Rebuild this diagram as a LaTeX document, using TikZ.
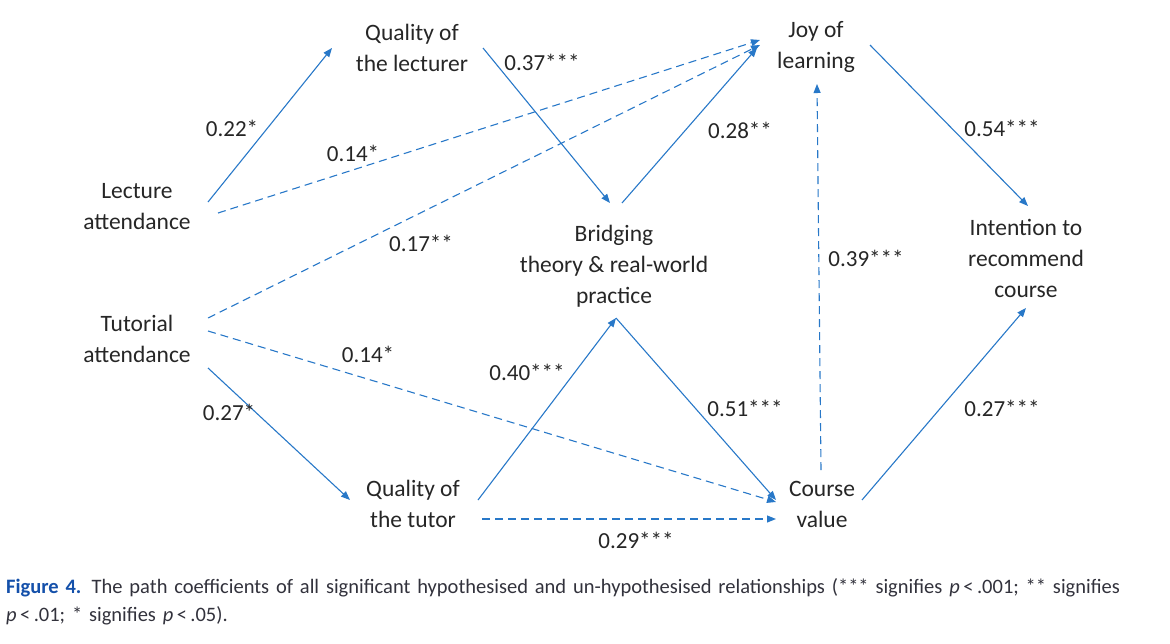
\documentclass[tikz,border=0pt]{standalone}
\usepackage{fontspec}
\setmainfont{Carlito}
\usetikzlibrary{arrows.meta}
\definecolor{arr}{RGB}{40,120,200}
\definecolor{capblue}{RGB}{20,80,170}
\definecolor{capgray}{RGB}{50,50,60}
\begin{document}
\begin{tikzpicture}[x=1pt,y=-1pt,
  box/.style={align=center,font=\fontsize{23.5}{31}\selectfont,text=black!85},
  lab/.style={font=\fontsize{23}{26}\selectfont,text=black!85},
  ar/.style={arr,line width=1.1pt,-{Triangle[length=9pt,width=7pt]}},
  da/.style={ar,dash pattern=on 8pt off 5pt}]
\useasboundingbox (0,0) rectangle (1170,643);
\node[box] (ql) at (412,48) {Quality of\\the lecturer};
\node[box] (joy) at (816,47) {Joy of\\learning};
\node[box] (la) at (137,207) {Lecture\\attendance};
\node[box] (ta) at (137,339) {Tutorial\\attendance};
\node[box] (br) at (614,266) {Bridging\\theory \& real-world\\practice};
\node[box] (int) at (1026,258) {Intention to\\recommend\\course};
\node[box] (qt) at (413,504) {Quality of\\the tutor};
\node[box] (cv) at (822,504) {Course\\value};
% anchor coordinates
\coordinate (la1) at (208,202); \coordinate (ql1) at (332,48);
\coordinate (ql2) at (483,48); \coordinate (br1) at (610,203);
\coordinate (br2) at (622,203); \coordinate (joy1) at (757,48);
\coordinate (la2) at (218,213); \coordinate (joy2) at (760,40);
\coordinate (ta1) at (208,318); \coordinate (joy3) at (760,45);
\coordinate (ta2) at (208,331); \coordinate (cv1) at (776,502);
\coordinate (ta3) at (208,368); \coordinate (qt1) at (350,500);
\coordinate (qt2) at (478,500); \coordinate (br3) at (616,318);
\coordinate (cv2) at (776,500);
\coordinate (qt3) at (482,519); \coordinate (cv3) at (776,519);
\coordinate (cv4) at (821,470); \coordinate (joy4) at (817,84);
\coordinate (joy5) at (870,45); \coordinate (int1) at (1028,206);
\coordinate (cv5) at (862,500); \coordinate (int2) at (1026,308);
\draw[ar] (la1) -- (ql1);
\draw[ar] (ql2) -- (br1);
\draw[ar] (br2) -- (joy1);
\draw[da] (la2) -- (joy2);
\draw[da] (ta1) -- (joy3);
\draw[da] (ta2) -- (cv1);
\draw[ar] (ta3) -- (qt1);
\draw[ar] (qt2) -- (br3);
\draw[ar] (br3) -- (cv2);
\draw[da] (qt3) -- (cv3);
\draw[da] (cv4) -- (joy4);
\draw[ar] (joy5) -- (int1);
\draw[ar] (cv5) -- (int2);
\node[lab] at (232,128) {0.22*};
\node[lab] at (542,62) {0.37***};
\node[lab] at (740,130) {0.28**};
\node[lab] at (353,153) {0.14*};
\node[lab] at (421,243) {0.17**};
\node[lab] at (368,354) {0.14*};
\node[lab] at (229,412) {0.27*};
\node[lab] at (527,372) {0.40***};
\node[lab] at (745,408) {0.51***};
\node[lab] at (636,540) {0.29***};
\node[lab] at (866,258) {0.39***};
\node[lab] at (1002,128) {0.54***};
\node[lab] at (1002,408) {0.27***};
\node[anchor=north west,text width=1164pt,align=left,inner sep=0pt,
  font=\fontsize{20.5}{28}\selectfont,text=capgray] (cap) at (6,578)
  {\hyphenpenalty=10000\textcolor{capblue}{\textbf{Figure 4.}} The path coefficients of all significant hypothesised and un-hypothesised relationships (*** signifies \emph{p}\,<\,.001; ** signifies \emph{p}\,<\,.01; * signifies \emph{p}\,<\,.05).};
\end{tikzpicture}
\end{document}
